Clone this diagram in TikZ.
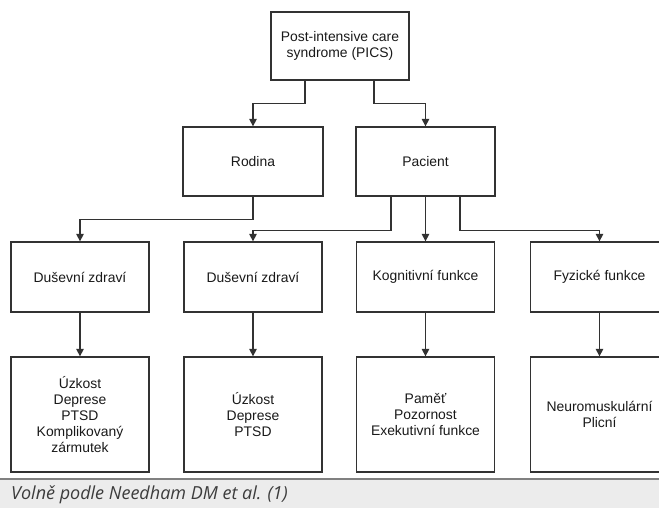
\documentclass[tikz,border=0pt]{standalone}
\usepackage{fontspec}
\setmainfont{Liberation Sans}
\newfontfamily\capfont{Open Sans}
\usetikzlibrary{arrows.meta,positioning}
\definecolor{pcedge}{RGB}{50,50,50}
\definecolor{pctext}{RGB}{25,25,25}
\definecolor{pccap}{RGB}{236,236,236}
\definecolor{pccapline}{RGB}{128,128,128}
\definecolor{pccaptext}{RGB}{60,60,60}
\tikzset{
  pcbox/.style={
    draw=pcedge, line width=1.3pt, align=center, text=pctext,
    font=\fontsize{13.9}{16}\selectfont, inner sep=2pt,
    minimum width=138pt
  },
  lvl/.style={pcbox, minimum height=69pt},
  leaf/.style={pcbox, minimum height=115pt},
  arr/.style={-{Triangle[length=7.5pt,width=7.5pt]}, draw=pcedge, line width=1.3pt},
  capnote/.style={font=\capfont\itshape\fontsize{18}{21}\selectfont, text=pccaptext, inner sep=0pt}
}
\begin{document}
\begin{tikzpicture}[x=1pt,y=-1pt]
  \useasboundingbox (0,0) rectangle (659,508);
  \clip (0,0) rectangle (659,508);
  \node[lvl, minimum height=68pt] (pics) at (340,46) {Post-intensive care\\syndrome (PICS)};
  \node[lvl, minimum width=140pt] (rodina) at (253,161.5) {Rodina};
  \node[lvl, minimum width=139pt] (pacient) at (425.5,161.5) {Pacient};
  \node[lvl, minimum height=70pt] (dus1) at (80,277) {Duševní zdraví};
  \node[lvl, minimum height=70pt] (dus2) at (253,277) {Duševní zdraví};
  \node[lvl, minimum height=70pt] (kog) at (425.5,277) {Kognitivní funkce};
  \node[lvl, minimum height=70pt] (fyz) at (599.5,277) {Fyzické funkce};
  \node[leaf] (dus1list) at (80,414.5) {Úzkost\\Deprese\\PTSD\\Komplikovaný\\zármutek};
  \node[leaf] (dus2list) at (253,414.5) {Úzkost\\Deprese\\PTSD};
  \node[leaf] (koglist) at (425.5,414.5) {Paměť\\Pozornost\\Exekutivní funkce};
  \node[leaf] (fyzlist) at (599.5,414.5) {Neuromuskulární\\Plicní};
  \draw[arr] ([xshift=-35pt]pics.south) -- ++(0,23) -| (rodina.north);
  \draw[arr] ([xshift=34pt]pics.south) -- ++(0,23) -| (pacient.north);
  \draw[arr] (rodina.south) -- ++(0,23) -| (dus1.north);
  \draw[arr] ([xshift=-34.5pt]pacient.south) -- ++(0,34) -| (dus2.north);
  \draw[arr] (pacient.south) -- (kog.north);
  \draw[arr] ([xshift=34.5pt]pacient.south) -- ++(0,34) -| (fyz.north);
  \foreach \a/\b in {dus1/dus1list,dus2/dus2list,kog/koglist,fyz/fyzlist} {
    \draw[arr] (\a.south) -- (\b.north);
  }
  \fill[pccap] (0,479) rectangle (659,508);
  \draw[pccapline, line width=1.3pt] (0,479) -- (659,479);
  \node[capnote, anchor=base west] (source) at (11,499) {Volně podle Needham DM et al. (1)};
\end{tikzpicture}
\end{document}
